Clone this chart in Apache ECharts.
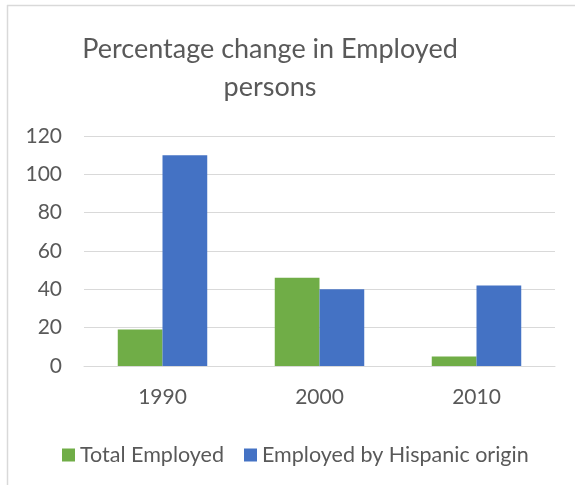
<!DOCTYPE html>
<html>
<head>
<meta charset="utf-8">
<script src="https://cdn.jsdelivr.net/npm/echarts@6/dist/echarts.min.js"></script>
<style>
  html, body { margin: 0; padding: 0; background: #fff; }
  #chart { width: 575px; height: 487px; }
</style>
</head>
<body>
<div id="chart"></div>
<script>
var years = ['1990', '2000', '2010'];
var totalEmployed = [19, 46, 5];
var hispanicEmployed = [110, 40, 42];
var yTicks = [0, 20, 40, 60, 80, 100, 120];

var myChart = echarts.init(document.getElementById('chart'));
var txt = '#595959';
var font = 'Lato, "Open Sans", sans-serif';

option = {
    animation: false,
    title: {
        text: 'Percentage change in Employed\npersons',
        left: 265,
        textAlign: 'center',
        top: 25,
        textStyle: {
            color: txt,
            fontFamily: font,
            fontWeight: 'normal',
            fontSize: 27,
            lineHeight: 38
        }
    },
    legend: {
        left: 57,
        top: 439,
        itemWidth: 13,
        itemHeight: 13,
        itemGap: 20,
        icon: 'rect',
        textStyle: { color: txt, fontFamily: font, fontSize: 21.5 },
        data: ['Total Employed', 'Employed by Hispanic origin']
    },
    grid: { left: 84, right: 20, top: 136, bottom: 121 },
    xAxis: {
        type: 'category',
        data: years,
        axisLine: { lineStyle: { color: '#d9d9d9', width: 1 } },
        axisTick: { show: false },
        axisLabel: { color: txt, fontFamily: font, fontSize: 21, margin: 21 }
    },
    yAxis: {
        type: 'value',
        min: yTicks[0],
        max: yTicks[yTicks.length - 1],
        interval: 20,
        axisLine: { show: false },
        axisTick: { show: false },
        splitLine: { lineStyle: { color: '#d9d9d9', width: 1 } },
        axisLabel: { color: txt, fontFamily: font, fontSize: 21, margin: 22 }
    },
    series: [
        {
            name: 'Total Employed',
            type: 'bar',
            data: totalEmployed,
            barGap: '0%',
            barCategoryGap: '43%',
            itemStyle: { color: '#70ad47' }
        },
        {
            name: 'Employed by Hispanic origin',
            type: 'bar',
            data: hispanicEmployed,
            barGap: '0%',
            barCategoryGap: '43%',
            itemStyle: { color: '#4472c4' }
        }
    ],
    graphic: [
        { type: 'line', shape: { x1: 7, y1: 5.5, x2: 575, y2: 5.5 }, style: { stroke: '#d9d9d9', lineWidth: 1.5 } },
        { type: 'line', shape: { x1: 7.5, y1: 5, x2: 7.5, y2: 485 }, style: { stroke: '#d9d9d9', lineWidth: 1.5 } }
    ]
};
myChart.setOption(option);
</script>
</body>
</html>
